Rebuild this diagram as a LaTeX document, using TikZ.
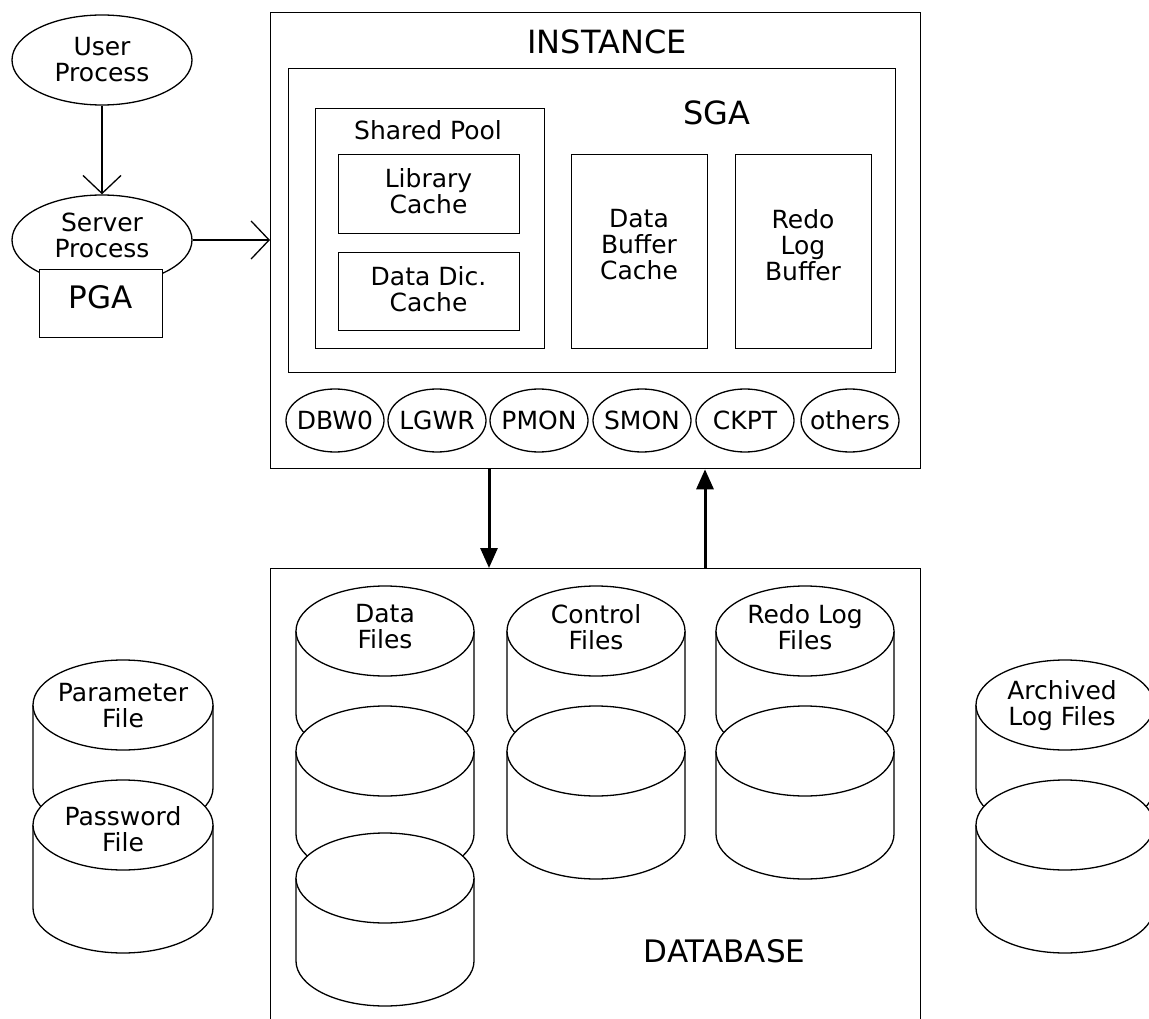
\documentclass[tikz,border=0pt]{standalone}
\usepackage{fontspec}
\setmainfont{DejaVu Sans}
\usetikzlibrary{shapes.geometric,arrows.meta}
\newcommand\dbcyl[4]{%
  \fill[white] (#1-#3,-#2) -- (#1-#3,-#2-83) arc[start angle=180,end angle=360,x radius=#3,y radius=#4] -- (#1+#3,-#2) -- cycle;
  \draw[ln] (#1-#3,-#2) -- (#1-#3,-#2-83) arc[start angle=180,end angle=360,x radius=#3,y radius=#4] -- (#1+#3,-#2);
  \filldraw[ln,fill=white] (#1,-#2) ellipse[x radius=#3,y radius=#4];
}
\begin{document}
\begin{tikzpicture}[x=1pt,y=1pt,
  ln/.style={line width=1.3pt,draw=black},
  txt/.style={font=\fontsize{25}{26}\selectfont,align=center,inner sep=0pt},
  big/.style={font=\fontsize{32}{36}\selectfont,inner sep=0pt},
  box/.style={ln,rectangle,fill=white,inner sep=0pt,anchor=north west},
  proc/.style={ln,ellipse,fill=white,minimum width=98pt,minimum height=63pt,inner sep=0pt,txt},
  oval/.style={ln,ellipse,fill=white,minimum width=180pt,minimum height=90pt,inner sep=0pt,txt},
  openarrow/.style={line width=1.3pt,-{Straight Barb[length=18pt,width=38pt]}},
  bigarrow/.style={line width=3pt,-{Triangle[length=20pt,width=17pt]}}
]
\useasboundingbox (0,0) rectangle (1149,-1019);
\clip (0,0) rectangle (1149,-1019);

% client side
\node[oval] (user) at (102,-60) {User\\Process};
\node[oval] (server) at (102,-240) {};
\node[txt] (servertxt) at (102,-235) {Server\\Process};
\node[box,minimum width=123pt,minimum height=68pt] (pga) at (39,-269) {};
\node[big,font=\fontsize{31}{34}\selectfont] (pgatxt) at (100.5,-297.5) {PGA};

% instance
\node[box,minimum width=650pt,minimum height=456pt] (instance) at (270,-12) {};
\node[big] (insttxt) at (607,-42) {INSTANCE};
\node[box,minimum width=607pt,minimum height=304pt] (sga) at (288,-68) {};
\node[big] (sgatxt) at (717,-113) {SGA};
\node[box,minimum width=229pt,minimum height=240pt] (pool) at (315,-108) {};
\node[txt] (pooltxt) at (428,-130.5) {Shared Pool};
\node[box,minimum width=181pt,minimum height=79pt] (lib) at (338,-154) {};
\node[txt] (libtxt) at (428.5,-191.5) {Library\\Cache};
\node[box,minimum width=181pt,minimum height=78pt] (ddc) at (338,-252) {};
\node[txt] (ddctxt) at (428.5,-289) {Data Dic.\\Cache};
\node[box,minimum width=136pt,minimum height=194pt] (dbc) at (571,-154) {};
\node[txt] (dbctxt) at (639,-245) {Data\\Buffer\\Cache};
\node[box,minimum width=136pt,minimum height=194pt] (rlb) at (735,-154) {};
\node[txt] (rlbtxt) at (803,-245) {Redo\\Log\\Buffer};

\node[proc] (dbw) at (335,-420.5) {\makebox[0pt]{DBW0}};
\node[proc] (lgwr) at (437,-420.5) {\makebox[0pt]{LGWR}};
\node[proc] (pmon) at (539,-420.5) {\makebox[0pt]{PMON}};
\node[proc] (smon) at (642,-420.5) {\makebox[0pt]{SMON}};
\node[proc] (ckpt) at (745,-420.5) {\makebox[0pt]{CKPT}};
\node[proc] (others) at (850,-420.5) {\makebox[0pt]{others}};

% database
\node[box,minimum width=650pt,minimum height=480pt] (database) at (270,-568) {};
\node[big,font=\fontsize{31}{34}\selectfont] (dbtxt) at (724.5,-951.5) {DATABASE};

\dbcyl{385}{631}{89}{45}
\dbcyl{385}{751}{89}{45}
\dbcyl{385}{878}{89}{45}
\node[txt] (datafiles) at (385,-627) {Data\\Files};

\dbcyl{596}{631}{89}{45}
\dbcyl{596}{751}{89}{45}
\node[txt] (ctlfiles) at (596,-627) {Control\\Files};

\dbcyl{805}{631}{89}{45}
\dbcyl{805}{751}{89}{45}
\node[txt] (redofiles) at (805,-627) {Redo Log\\Files};

% external files
\dbcyl{123}{705}{90}{45}
\node[txt] (param) at (123,-705.5) {Parameter\\File};
\dbcyl{123}{825}{90}{45}
\node[txt] (passwd) at (123,-829) {Password\\File};

\dbcyl{1065}{705}{89}{45}
\dbcyl{1065}{825}{89}{45}
\node[txt] (arch) at (1062,-706) {Archived\\Log Files};

% connectors
\coordinate (xa) at (489,0);
\coordinate (xb) at (705,0);
\draw[openarrow] (user) -- (server);
\draw[openarrow] (server.east) -- (server.east -| instance.west);
\draw[bigarrow] (instance.south -| xa) -- (database.north -| xa);
\draw[bigarrow] (database.north -| xb) -- (instance.south -| xb);
\end{tikzpicture}
\end{document}
